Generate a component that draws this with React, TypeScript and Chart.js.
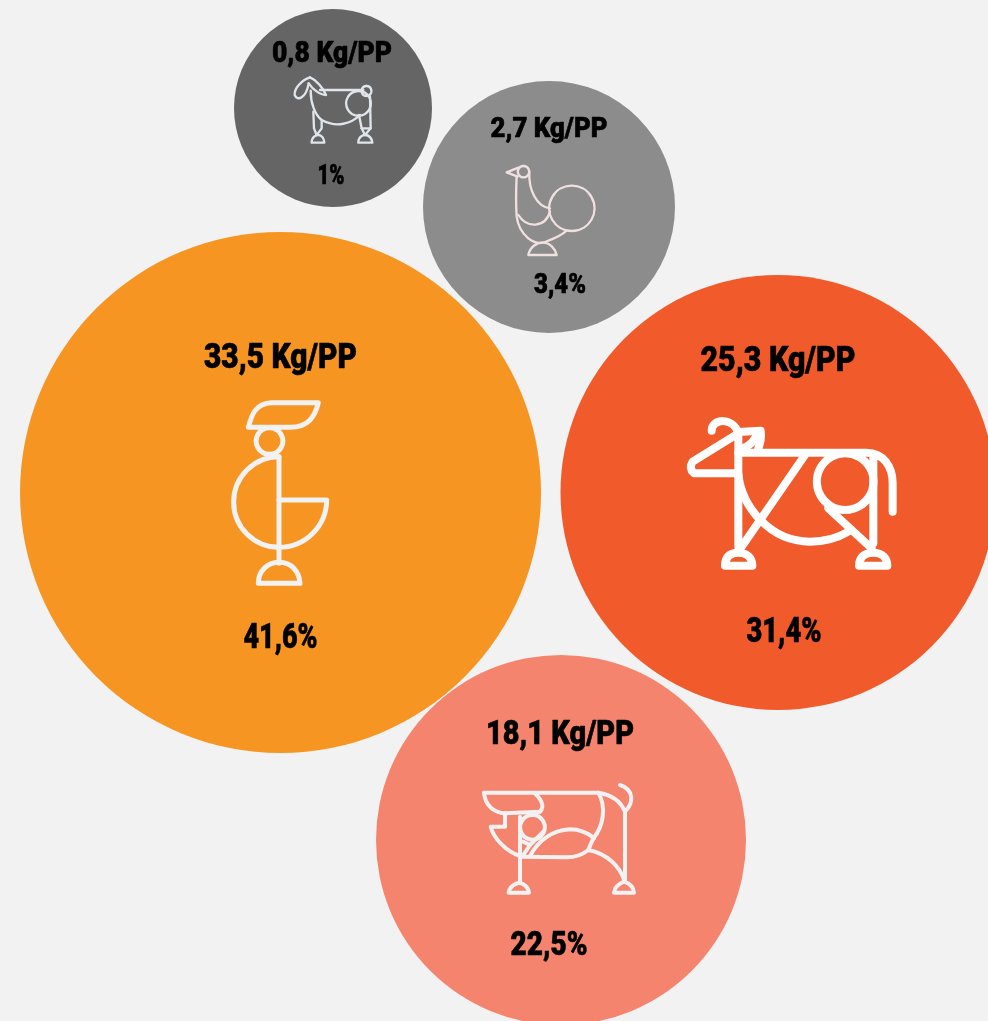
import React, { useEffect, useRef } from "react";
import { Chart, registerables } from "chart.js";

Chart.register(...registerables);

const animals = ["Goat", "Turkey", "Chicken", "Cattle", "Pork"];
const kgLabels = ["0,8 Kg/PP", "2,7 Kg/PP", "33,5 Kg/PP", "25,3 Kg/PP", "18,1 Kg/PP"];
const shareLabels = ["1%", "3,4%", "41,6%", "31,4%", "22,5%"];
const bubbleX = [333, 549, 280.5, 778, 561];
const bubbleY = [108, 207, 492.5, 492.5, 840];
const bubbleR = [99, 126, 260.5, 217.5, 185];
const colors = ["#656565", "#8c8c8c", "#f79523", "#f15a2b", "#f5846f"];

// [dx, baseline dy] of each label relative to its bubble centre
const kgOffset = [[-1, -46], [0, -70], [0, -125], [0, -122], [-1, -96]];
const shareOffset = [[-2, 76], [11, 86], [0, 155], [6, 149], [-12, 115]];
const kgFont = [29, 28, 35, 35, 33];
const shareFont = [28, 28, 35, 35, 33];
const kgWidth = [120, 117, 153, 155, 148];
const shareWidth = [27, 52, 74, 75, 77];

// Icons are written in 3x crop units around a local origin
type Icon = { ox: number; oy: number; stroke: string; width: number; paths: string[] };
const icons: Icon[] = [
  {
    ox: 339, oy: 324, stroke: "#dfe5ea", width: 7,
    paths: [
      "M270,232 C245,240 222,265 224,285 C232,305 258,295 266,250",
      "M270,232 C290,240 310,265 318,285 C300,285 278,268 266,250",
      "M300,270 L430,270",
      "M440,258 a15,15 0 1,1 -1,0",
      "M415,273 a37,37 0 1,0 1,0",
      "M272,272 C272,310 285,345 305,360 C350,385 395,370 420,345",
      "M280,335 L282,385 L290,405 L305,385 L305,360",
      "M417,345 L425,385 L435,405 L452,385 L450,290",
      "M425,385 L452,385",
      "M275,428 C275,410 288,405 295,405 C305,405 312,415 313,428 Z",
      "M415,428 C415,410 428,405 435,405 C447,405 455,415 457,428 Z",
    ],
  },
  {
    ox: 987, oy: 621, stroke: "#f0e0e0", width: 7,
    paths: [
      "M910,498 a17,17 0 1,0 1,0",
      "M895,503 L860,517 L893,530",
      "M890,530 C888,570 888,620 890,650 C897,700 940,745 985,722 C1005,715 1025,705 1040,692",
      "M928,515 C925,570 950,620 990,625",
      "M1055,557 a68,68 0 1,0 1,0",
      "M895,645 C920,685 975,685 990,635",
      "M925,765 C930,740 950,728 968,728 C990,728 1005,745 1010,765 Z",
    ],
  },
  {
    ox: 301.5, oy: 487.5, stroke: "#f2f2f2", width: 15,
    paths: [
      "M205,292 C215,255 225,220 275,218 L415,218 C405,260 385,292 330,292 Z",
      "M268,293 a40,40 0 1,0 1,0",
      "M297,380 A136,136 0 1,0 297,652",
      "M297,380 L297,700",
      "M297,510 L440,510 A143,143 0 0,1 297,652",
      "M235,760 C235,720 265,697 297,697 C335,697 358,725 360,760 Z",
    ],
  },
  {
    ox: 324, oy: 277.5, stroke: "#ffffff", width: 24,
    paths: [
      "M125,92 C125,55 190,50 205,100 L68,185 Q55,205 72,220 L195,220",
      "M205,96 L272,92 C276,115 270,130 262,155",
      "M215,146 Q250,135 262,100",
      "M205,100 L205,440",
      "M205,158 L590,158 C640,158 668,200 668,250 L668,335",
      "M525,160 a85,85 0 1,0 1,0",
      "M405,165 L215,440",
      "M205,222 C215,320 300,425 420,425 C470,425 510,410 535,395",
      "M475,325 L605,445",
      "M610,170 L610,430",
      "M165,497 C165,470 180,458 205,458 C232,458 247,475 247,497 Z",
      "M567,497 C567,470 585,458 610,458 C637,458 652,475 652,497 Z",
    ],
  },
  {
    ox: 273, oy: 210, stroke: "#f2f2f2", width: 12,
    paths: [
      "M42,68 L385,68 C430,75 455,100 465,125 C490,100 495,60 450,45",
      "M465,125 L465,330",
      "M385,68 C410,110 400,170 370,205 C362,222 358,232 355,240",
      "M42,68 C45,105 70,128 105,130 L210,125",
      "M195,70 C215,90 225,110 210,125",
      "M105,130 L105,170 L62,170 C70,205 110,245 150,258",
      "M187,135 a37,37 0 1,0 1,0",
      "M150,140 L150,340",
      "M150,260 L290,262 C320,262 340,252 355,240 C410,250 450,290 462,330",
      "M180,258 C205,210 250,180 300,178 C330,178 355,190 372,205",
      "M220,185 C205,200 190,215 180,225 L160,215",
      "M180,225 L160,255",
      "M116,368 C118,350 135,340 147,338 C160,340 175,350 177,368 Z",
      "M432,368 C434,350 450,340 462,335 C478,340 490,350 492,368 Z",
    ],
  },
];

const overlay = {
  id: "bubbleOverlay",
  afterDatasetsDraw(chart: any) {
    const ctx = chart.ctx;
    const points = chart.getDatasetMeta(0).data;
    points.forEach((pt: any, i: number) => {
      const icon = icons[i];
      ctx.save();
      ctx.translate(pt.x, pt.y);
      ctx.scale(1 / 3, 1 / 3);
      ctx.translate(-icon.ox, -icon.oy);
      ctx.strokeStyle = icon.stroke;
      ctx.lineWidth = icon.width;
      ctx.lineJoin = "round";
      ctx.lineCap = "round";
      icon.paths.forEach((d) => ctx.stroke(new Path2D(d)));
      ctx.restore();

      const drawLabel = (text: string, size: number, off: number[], width: number) => {
        ctx.save();
        ctx.font = `900 ${size}px Roboto, "Liberation Sans", sans-serif`;
        ctx.textAlign = "center";
        ctx.textBaseline = "alphabetic";
        ctx.fillStyle = "#000000";
        ctx.strokeStyle = "#000000";
        ctx.lineWidth = 0.6;
        ctx.lineJoin = "round";
        const natural = ctx.measureText(text).width;
        ctx.translate(pt.x + off[0], pt.y + off[1]);
        ctx.scale(width / natural, 1);
        ctx.fillText(text, 0, 0);
        ctx.strokeText(text, 0, 0);
        ctx.restore();
      };
      drawLabel(kgLabels[i], kgFont[i], kgOffset[i], kgWidth[i]);
      drawLabel(shareLabels[i], shareFont[i], shareOffset[i], shareWidth[i]);
    });
  },
};

export default function App() {
  const ref = useRef<HTMLCanvasElement>(null);
  useEffect(() => {
    const chart = new Chart(ref.current!, {
      type: "bubble",
      data: {
        labels: animals,
        datasets: [
          {
            data: bubbleX.map((x, i) => ({ x, y: bubbleY[i], r: bubbleR[i] })),
            backgroundColor: colors,
            hoverBackgroundColor: colors,
            borderWidth: 0,
          },
        ],
      },
      options: {
        animation: false,
        responsive: false,
        layout: { padding: 0, autoPadding: false },
        events: [],
        plugins: { legend: { display: false }, tooltip: { enabled: false } },
        scales: {
          x: { type: "linear", min: 0, max: 988, display: false },
          y: { type: "linear", min: 0, max: 1021, reverse: true, display: false },
        },
      },
      plugins: [overlay],
    } as any);
    return () => chart.destroy();
  }, []);
  return (
    <div style={{ position: "absolute", left: 0, top: 0, width: 988, height: 1021, background: "#f2f2f2", overflow: "hidden" }}>
      <canvas ref={ref} width={988} height={1021} style={{ display: "block" }} />
    </div>
  );
}
